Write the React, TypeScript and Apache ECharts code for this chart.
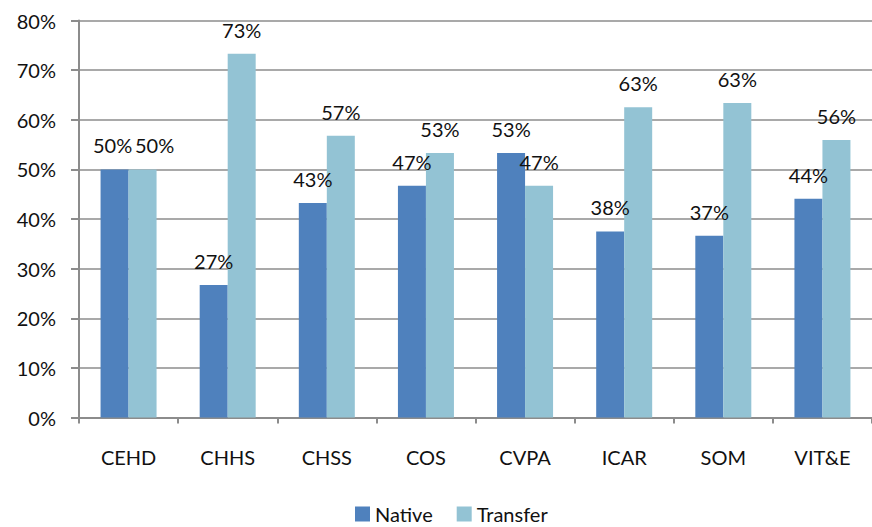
import React, { useEffect, useRef } from "react";
import * as echarts from "echarts";

// Share of students by college, split between native and transfer students (%)
const colleges = ["CEHD", "CHHS", "CHSS", "COS", "CVPA", "ICAR", "SOM", "VIT&E"];
const nativeShare = [50, 26.7, 43.2, 46.7, 53.3, 37.5, 36.6, 44.1];
const transferShare = [50, 73.3, 56.8, 53.3, 46.7, 62.5, 63.4, 55.9];
const yTicks = [0, 80, 10]; // min, max, step

const FONT = "Lato, 'Open Sans', sans-serif";
const GRAY = "#8c8c8c";

export default function App() {
  const ref = useRef<HTMLDivElement>(null);

  useEffect(() => {
    if (!ref.current) return;
    const chart = echarts.init(ref.current, undefined, { renderer: "svg" });

    const label = {
      show: true,
      position: "top" as const,
      distance: 14,
      fontFamily: FONT,
      fontSize: 20,
      color: "#111",
      formatter: (p: any) => `${Math.round(p.value)}%`,
    };

    chart.setOption({
      animation: false,
      textStyle: { fontFamily: FONT },
      grid: { left: 79, right: -17, top: 20.5, bottom: 109.5, containLabel: false },
      legend: {
        data: ["Native", "Transfer"],
        top: 504,
        left: 355,
        padding: 0,
        icon: "rect",
        itemWidth: 15,
        itemHeight: 15,
        itemGap: 24,
        textStyle: { fontFamily: FONT, fontSize: 20, color: "#111", lineHeight: 17 },
      },
      xAxis: {
        type: "category",
        data: colleges,
        axisLine: { lineStyle: { color: GRAY, width: 2 } },
        axisTick: { show: true, length: 6, lineStyle: { color: GRAY, width: 2 } },
        axisLabel: { fontFamily: FONT, fontSize: 20, color: "#111", margin: 29 },
      },
      yAxis: {
        type: "value",
        min: yTicks[0],
        max: yTicks[1],
        interval: yTicks[2],
        axisLine: { show: true, lineStyle: { color: GRAY, width: 2 } },
        axisTick: { show: true, length: 8, lineStyle: { color: GRAY, width: 2 } },
        axisLabel: {
          fontFamily: FONT,
          fontSize: 20,
          color: "#111",
          margin: 23,
          formatter: "{value}%",
        },
        splitLine: { show: true, lineStyle: { color: GRAY, width: 1.5 } },
      },
      series: [
        {
          name: "Native",
          type: "bar",
          barWidth: 28,
          barGap: "0%",
          itemStyle: { color: "#4f81bd" },
          label,
          data: nativeShare.map((v, i) =>
            i === 0 ? { value: v, label: { offset: [-2, 0] } } : v
          ),
        },
        {
          name: "Transfer",
          type: "bar",
          barWidth: 28,
          barGap: "0%",
          itemStyle: { color: "#93c3d4" },
          label,
          data: transferShare.map((v, i) =>
            i === 0 ? { value: v, label: { offset: [12, 0] } } : v
          ),
        },
      ],
    });

    return () => chart.dispose();
  }, []);

  return (
    <div
      ref={ref}
      style={{ position: "fixed", left: 0, top: 0, width: 872, height: 527, background: "#fff" }}
    />
  );
}
